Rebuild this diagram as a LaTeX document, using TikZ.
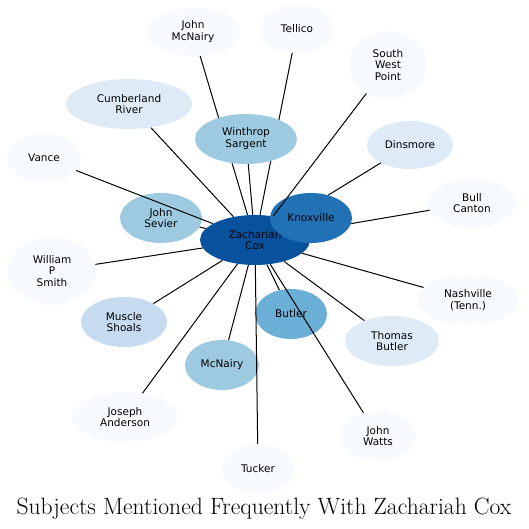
\documentclass[tikz,border=0pt]{standalone}
\usepackage{fontspec}
\newfontfamily\dejavu{DejaVu Sans}
\usetikzlibrary{shapes.geometric}
\definecolor{blues1}{HTML}{F7FBFF}
\definecolor{blues2}{HTML}{DEEBF7}
\definecolor{blues3}{HTML}{C6DBEF}
\definecolor{blues4}{HTML}{9ECAE1}
\definecolor{blues5}{HTML}{6BAED6}
\definecolor{blues7}{HTML}{2171B5}
\definecolor{blues8}{HTML}{08519C}
\begin{document}
\begin{tikzpicture}[x=1pt,y=-1pt,
	subj/.style={ellipse,draw=none,inner sep=0pt,align=center,font=\dejavu\fontsize{10.5}{11.8}\selectfont},
	link/.style={black,line width=1pt}]
		\useasboundingbox (0,0) rectangle (528,529);
		% subjects round Zachariah Cox
		\foreach \n/\x/\y/\w/\h/\c/\t in {jmc/193/32/94/48/blues1/{John\\McNairy},tel/297/29/74/48/blues1/Tellico,swp/388/65/78/68/blues1/{South\\West\\Point},cumb/129/104/126/50/blues2/{Cumberland\\River},din/410/145/86/48/blues2/Dinsmore,vance/44/158/74/48/blues1/Vance,bull/472/203/88/50/blues1/{Bull\\Canton},sev/161/218/82/50/blues4/{John\\Sevier},cox/255/240/110/50/blues8/{Zachariah\\Cox},wps/52/271/88/68/blues1/{William\\P\\Smith},nash/468/300/102/50/blues1/{Nashville\\(Tenn.)},musc/124/322/86/50/blues3/{Muscle\\Shoals},but/291/314/72/50/blues5/Butler,tbut/392/341/94/50/blues2/{Thomas\\Butler},mcn/222/365/74/50/blues4/McNairy,jand/125/417/106/50/blues1/{Joseph\\Anderson},watts/378/436/76/50/blues1/{John\\Watts},tuck/258/469/72/50/blues1/Tucker}{\node[subj,fill=\c,minimum width=\w,minimum height=\h] (\n) at (\x,\y) {\t};}
		\foreach \n in {din,bull,jmc,tel}{\draw[link] (cox) -- (\n);}
		\node[subj,fill=blues7,minimum width=82,minimum height=50] (knox) at (311,218) {Knoxville};
		\node[subj,fill=blues4,minimum width=102,minimum height=50] (sarg) at (246,139) {Winthrop\\Sargent};
		\foreach \n in {swp,cumb,vance,sev,wps,musc,jand,mcn,tuck,but,watts,tbut,nash,sarg}{\draw[link] (cox) -- (\n);}
		\node[anchor=base,font=\fontsize{23.6}{28}\selectfont] (title) at (264,514) {Subjects Mentioned Frequently With Zachariah Cox};
	\end{tikzpicture}
\end{document}
